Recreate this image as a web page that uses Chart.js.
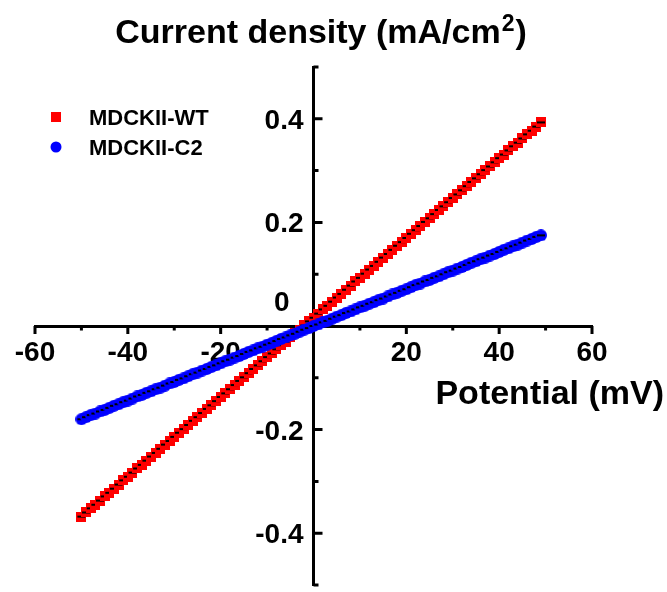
<!DOCTYPE html>
<html>
<head>
<meta charset="utf-8">
<script src="https://cdn.jsdelivr.net/npm/chart.js@4.4.1/dist/chart.umd.min.js"></script>
<style>
    html, body { margin: 0; padding: 0; background: #fff; }
    #chart { display: block; }
</style>
</head>
<body>
<canvas id="chart" width="667" height="592"></canvas>
<script>
// potential steps (mV)
let potential = [
    -50, -49, -48, -47, -46, -45, -44, -43, -42, -41,
    -40, -39, -38, -37, -36, -35, -34, -33, -32, -31,
    -30, -29, -28, -27, -26, -25, -24, -23, -22, -21,
    -20, -19, -18, -17, -16, -15, -14, -13, -12, -11,
    -10, -9, -8, -7, -6, -5, -4, -3, -2, -1,
    0, 1, 2, 3, 4, 5, 6, 7, 8, 9,
    10, 11, 12, 13, 14, 15, 16, 17, 18, 19,
    20, 21, 22, 23, 24, 25, 26, 27, 28, 29,
    30, 31, 32, 33, 34, 35, 36, 37, 38, 39,
    40, 41, 42, 43, 44, 45, 46, 47, 48, 49
];

// current density (mA/cm2), MDCKII-WT
let wtCurrent = [
    -0.368, -0.360, -0.352, -0.345, -0.337, -0.329, -0.322, -0.314, -0.306, -0.298,
    -0.291, -0.283, -0.275, -0.268, -0.260, -0.252, -0.245, -0.237, -0.229, -0.222,
    -0.214, -0.206, -0.199, -0.191, -0.183, -0.176, -0.168, -0.160, -0.153, -0.145,
    -0.137, -0.130, -0.122, -0.114, -0.106, -0.099, -0.091, -0.083, -0.076, -0.068,
    -0.060, -0.053, -0.045, -0.037, -0.030, -0.022, -0.014, -0.007, 0.001, 0.009,
    0.016, 0.024, 0.032, 0.039, 0.047, 0.055, 0.062, 0.070, 0.078, 0.086,
    0.093, 0.101, 0.109, 0.116, 0.124, 0.132, 0.139, 0.147, 0.155, 0.162,
    0.170, 0.178, 0.185, 0.193, 0.201, 0.208, 0.216, 0.224, 0.231, 0.239,
    0.247, 0.254, 0.262, 0.270, 0.278, 0.285, 0.293, 0.301, 0.308, 0.316,
    0.324, 0.331, 0.339, 0.347, 0.354, 0.362, 0.370, 0.377, 0.385, 0.393
];

// current density (mA/cm2), MDCKII-C2
let c2Current = [
    -0.180, -0.176, -0.172, -0.169, -0.165, -0.162, -0.158, -0.154, -0.151, -0.147,
    -0.144, -0.140, -0.136, -0.133, -0.129, -0.126, -0.122, -0.119, -0.115, -0.111,
    -0.108, -0.104, -0.101, -0.097, -0.093, -0.090, -0.086, -0.083, -0.079, -0.076,
    -0.072, -0.068, -0.065, -0.061, -0.058, -0.054, -0.050, -0.047, -0.043, -0.040,
    -0.036, -0.033, -0.029, -0.025, -0.022, -0.018, -0.015, -0.011, -0.007, -0.004,
    0.000, 0.003, 0.007, 0.010, 0.014, 0.018, 0.021, 0.025, 0.028, 0.032,
    0.036, 0.039, 0.043, 0.046, 0.050, 0.053, 0.057, 0.061, 0.064, 0.068,
    0.071, 0.075, 0.079, 0.082, 0.086, 0.089, 0.093, 0.096, 0.100, 0.104,
    0.107, 0.111, 0.114, 0.118, 0.122, 0.125, 0.129, 0.132, 0.136, 0.139,
    0.143, 0.147, 0.150, 0.154, 0.157, 0.161, 0.165, 0.168, 0.172, 0.175
];

let seriesNames = ["MDCKII-WT", "MDCKII-C2"];

let xTickLabels = [-60, -40, -20, 20, 40, 60];
let xMinorTicks = [-50, -30, -10, 10, 30, 50];
let yTickLabels = [-0.4, -0.2, 0.2, 0.4];
let yMinorTicks = [-0.5, -0.3, -0.1, 0.1, 0.3, 0.5];

const FONT = "'Liberation Sans', Arial, sans-serif";

function squareMarker() {
    let c = document.createElement("canvas");
    c.width = 10;
    c.height = 10;
    let g = c.getContext("2d");
    g.fillStyle = "#ff0000";
    g.fillRect(0, 0, 10, 10);
    g.fillStyle = "#000";
    g.fillRect(1, 4, 8, 2);
    return c;
}

function circleMarker() {
    let c = document.createElement("canvas");
    c.width = 12;
    c.height = 12;
    let g = c.getContext("2d");
    g.fillStyle = "#0000ff";
    g.beginPath();
    g.arc(6, 6, 6, 0, Math.PI * 2);
    g.fill();
    g.fillStyle = "#000";
    g.fillRect(2, 5, 8, 2);
    return c;
}

function toPoints(ys) {
    return potential.map((x, i) => ({ x: x, y: ys[i] }));
}

function noPad(s) {
    s.paddingTop = 0;
    s.paddingBottom = 0;
    s.paddingLeft = 0;
    s.paddingRight = 0;
}

// tick marks, y labels, title, axis title and legend
const decor = {
    id: "decor",
    beforeDatasetsDraw(chart) {
        let ctx = chart.ctx;
        let xs = chart.scales.x;
        let ys = chart.scales.y;
        let x0 = xs.getPixelForValue(0);
        let y0 = ys.getPixelForValue(0);

        ctx.save();
        ctx.strokeStyle = "#000";
        ctx.lineWidth = 3;
        ctx.beginPath();
        xTickLabels.forEach(v => {
            let px = xs.getPixelForValue(v);
            ctx.moveTo(px, y0);
            ctx.lineTo(px, y0 + 8);
        });
        xMinorTicks.forEach(v => {
            let px = xs.getPixelForValue(v);
            ctx.moveTo(px, y0);
            ctx.lineTo(px, y0 + 4.5);
        });
        yTickLabels.forEach(v => {
            let py = ys.getPixelForValue(v);
            ctx.moveTo(x0, py);
            ctx.lineTo(x0 + 9, py);
        });
        yMinorTicks.forEach(v => {
            let py = ys.getPixelForValue(v);
            ctx.moveTo(x0, py);
            ctx.lineTo(x0 + 5, py);
        });
        ctx.stroke();

        // y tick labels, left of the axis
        ctx.fillStyle = "#000";
        ctx.font = "bold 28px " + FONT;
        ctx.textAlign = "right";
        ctx.textBaseline = "alphabetic";
        yTickLabels.forEach(v => {
            ctx.fillText(String(v), x0 - 10, ys.getPixelForValue(v) + 10);
        });
        // the raised zero
        ctx.fillText("0", x0 - 24, y0 - 15);
        ctx.restore();
    },
    afterDraw(chart) {
        let ctx = chart.ctx;
        ctx.save();
        ctx.fillStyle = "#000";
        ctx.textBaseline = "alphabetic";

        // chart title with superscript
        let main = "Current density (mA/cm";
        ctx.textAlign = "left";
        ctx.font = "bold 34px " + FONT;
        let w1 = ctx.measureText(main).width;
        let w3 = ctx.measureText(")").width;
        ctx.font = "bold 23px " + FONT;
        let w2 = ctx.measureText("2").width;
        let start = 321 - (w1 + w2 + w3 + 2) / 2;
        ctx.font = "bold 34px " + FONT;
        ctx.fillText(main, start, 43);
        ctx.font = "bold 23px " + FONT;
        ctx.fillText("2", start + w1 + 1, 31);
        ctx.font = "bold 34px " + FONT;
        ctx.fillText(")", start + w1 + w2 + 2, 43);

        // x axis title
        ctx.textAlign = "right";
        ctx.fillText("Potential (mV)", 664, 404);

        // legend
        ctx.textAlign = "left";
        ctx.font = "bold 22px " + FONT;
        ctx.fillStyle = "#ff0000";
        ctx.fillRect(51, 112, 10, 10);
        ctx.fillStyle = "#0000ff";
        ctx.beginPath();
        ctx.arc(56, 147, 5.5, 0, Math.PI * 2);
        ctx.fill();
        ctx.fillStyle = "#000";
        ctx.fillText(seriesNames[0], 89, 125);
        ctx.fillText(seriesNames[1], 89, 155);
        ctx.restore();
    }
};

let chart = new Chart(document.getElementById("chart"), {
    type: "scatter",
    data: {
        datasets: [
            {
                label: seriesNames[0],
                data: toPoints(wtCurrent),
                pointStyle: squareMarker(),
                pointRadius: 5,
                showLine: false,
                order: 2
            },
            {
                label: seriesNames[1],
                data: toPoints(c2Current),
                pointStyle: circleMarker(),
                pointRadius: 6,
                showLine: false,
                order: 1
            }
        ]
    },
    options: {
        responsive: false,
        animation: false,
        devicePixelRatio: 1,
        layout: {
            padding: { left: 35, right: 75, top: 67, bottom: 0 }
        },
        plugins: {
            legend: { display: false },
            tooltip: { enabled: false },
            title: { display: false }
        },
        scales: {
            x: {
                type: "linear",
                min: -60,
                max: 60,
                position: { y: 0 },
                afterFit: s => { s.height = 0; noPad(s); },
                afterBuildTicks: s => { s.ticks = xTickLabels.map(v => ({ value: v })); },
                grid: { drawOnChartArea: false, drawTicks: false },
                border: { display: true, width: 3, color: "#000" },
                ticks: {
                    color: "#000",
                    font: { family: FONT, size: 28, weight: "bold" },
                    padding: 10,
                    maxRotation: 0
                }
            },
            y: {
                type: "linear",
                min: -0.5,
                max: 0.5,
                position: { x: 0 },
                afterFit: s => { s.width = 0; noPad(s); },
                grid: { drawOnChartArea: false, drawTicks: false },
                border: { display: true, width: 3, color: "#000" },
                ticks: { display: false }
            }
        }
    },
    plugins: [decor]
});
</script>
</body>
</html>
